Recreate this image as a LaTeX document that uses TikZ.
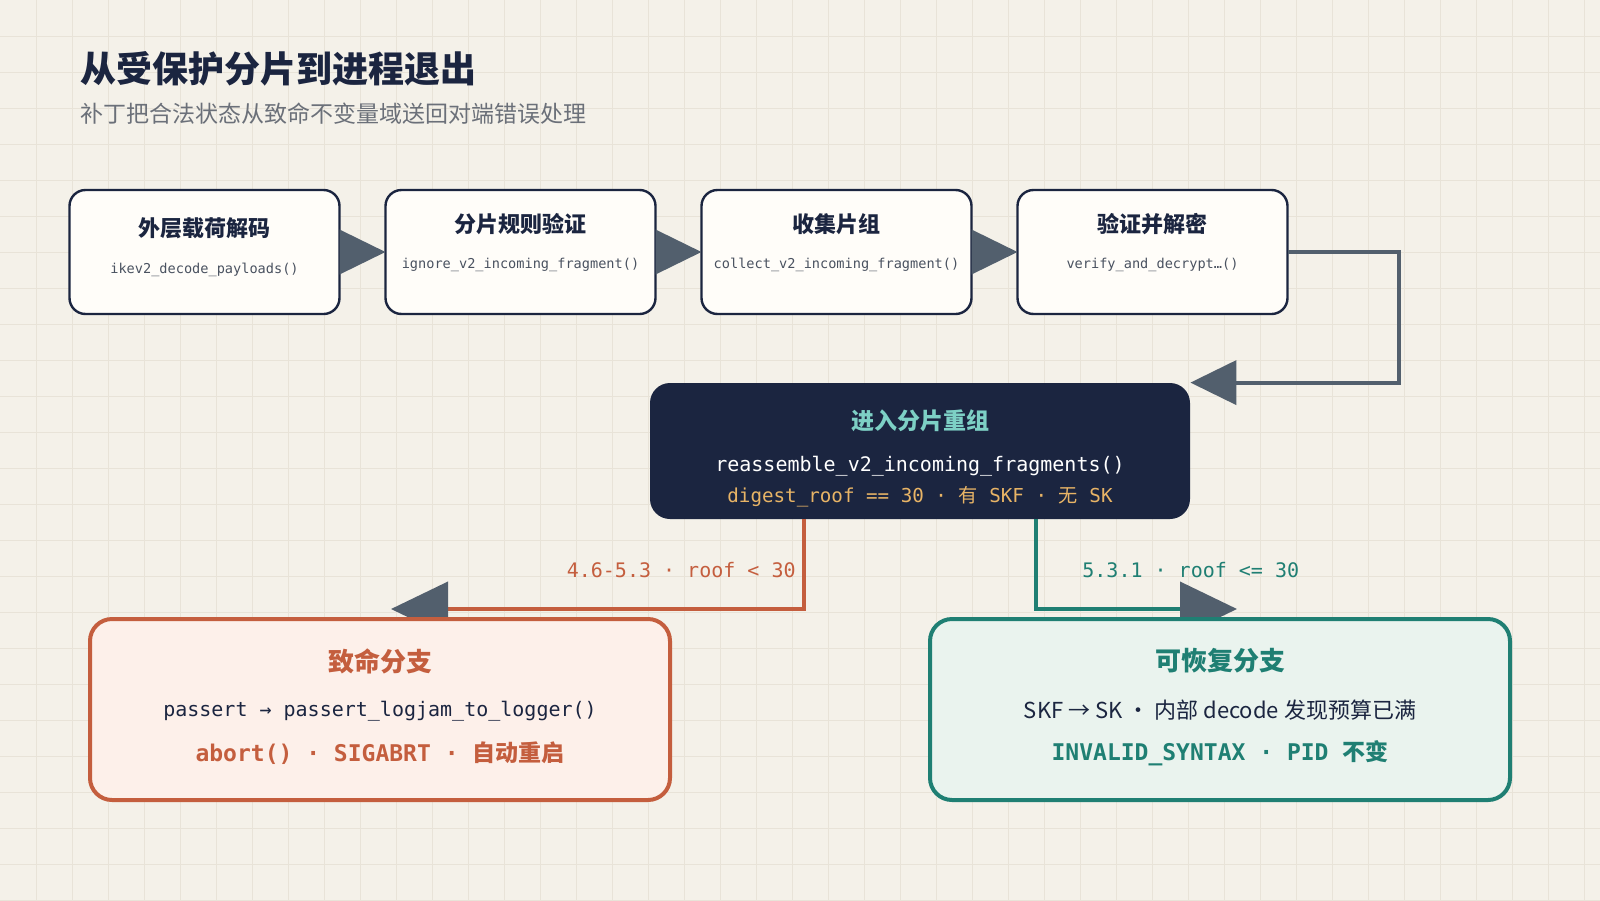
\documentclass[tikz,border=0pt]{standalone}
\usepackage{fontspec}
\setmainfont{Noto Sans CJK SC}
\setmonofont{DejaVu Sans Mono}
\newfontfamily\cjk{Noto Sans CJK SC}
\usetikzlibrary{arrows.meta,positioning}

\definecolor{paper}{HTML}{F4F1E9}
\definecolor{gridc}{HTML}{E8E3D8}
\definecolor{ink}{HTML}{1B2540}
\definecolor{subink}{HTML}{6B7079}
\definecolor{codeink}{HTML}{4A5260}
\definecolor{boxbg}{HTML}{FFFDF9}
\definecolor{arrowgray}{HTML}{525F6D}
\definecolor{rust}{HTML}{C45E3E}
\definecolor{rustbg}{HTML}{FDF0EA}
\definecolor{tealink}{HTML}{1F7F73}
\definecolor{tealbg}{HTML}{EAF3EE}
\definecolor{mint}{HTML}{7DD0C5}
\definecolor{amber}{HTML}{E8B466}

\begin{document}
\begin{tikzpicture}[
        x=0.5pt, y=-0.5pt,
        node distance=23pt,
        stepbox/.style={draw=ink, line width=1.2pt, fill=boxbg, rounded corners=8pt,
            minimum width=135pt, minimum height=62pt, outer sep=0pt},
        steptitle/.style={inner sep=0pt, text=ink, font=\bfseries\fontsize{11}{13}\selectfont},
        stepcode/.style={inner sep=0pt, text=codeink, font=\ttfamily\fontsize{6.8}{8}\selectfont},
        darkbox/.style={fill=ink, rounded corners=10pt, minimum width=270pt, minimum height=68pt},
        branchbox/.style={line width=2pt, rounded corners=11pt, minimum width=290pt, minimum height=90.5pt},
        branchtitle/.style={inner sep=0pt, font=\bfseries\fontsize{13}{15}\selectfont},
        codeline/.style={inner sep=0pt, font=\ttfamily\fontsize{10}{12}\selectfont},
        boldcode/.style={inner sep=0pt, font=\ttfamily\bfseries\fontsize{11.5}{13}\selectfont},
        edgelabel/.style={inner sep=0pt, font=\ttfamily\fontsize{10}{12}\selectfont},
        flow/.style={draw=arrowgray, line width=2pt, -{Triangle[length=23pt,width=22pt]}},
        branchflow/.style={line width=2pt, -{Triangle[length=28.5pt,width=27pt,color=arrowgray]}}
    ]
    % paper and grid
    \fill[paper] (0,0) rectangle (1600,900);
    \useasboundingbox (0,0) rectangle (1600,900);
    \foreach \gx in {36,72,...,1584}
        \draw[gridc, line width=0.5pt] (\gx,0) -- (\gx,900);
    \foreach \gy in {36,72,...,900}
        \draw[gridc, line width=0.5pt] (0,\gy) -- (1600,\gy);

    % heading
    \node[anchor=west, inner sep=0pt, text=ink, font=\bfseries\fontsize{18}{20}\selectfont] (title) at (80,69) {从受保护分片到进程退出};
    \node[anchor=west, inner sep=0pt, text=subink, font=\fontsize{11.5}{14}\selectfont] (subtitle) at (80,114) {补丁把合法状态从致命不变量域送回对端错误处理};

    % pipeline
    \node[stepbox] (decode) at (204.5,252) {};
    \node[stepbox, right=of decode] (filter) {};
    \node[stepbox, right=of filter] (collect) {};
    \node[stepbox, right=of collect] (verify) {};

    \node[steptitle] (decodetitle) at ([yshift=12pt]decode.center) {外层载荷解码};
    \node[stepcode] (decodecode) at ([yshift=-9pt]decode.center) {ikev2\_decode\_payloads()};
    \node[steptitle] (filtertitle) at ([yshift=14pt]filter.center) {分片规则验证};
    \node[stepcode] (filtercode) at ([yshift=-6.5pt]filter.center) {ignore\_v2\_incoming\_fragment()};
    \node[steptitle] (collecttitle) at ([yshift=14pt]collect.center) {收集片组};
    \node[stepcode] (collectcode) at ([yshift=-6.5pt]collect.center) {collect\_v2\_incoming\_fragment()};
    \node[steptitle] (verifytitle) at ([yshift=14pt]verify.center) {验证并解密};
    \node[stepcode] (verifycode) at ([yshift=-6.5pt]verify.center) {verify\_and\_decrypt…()};

    % reassembly
    \node[darkbox] (reasm) at (920,451) {};
    \node[inner sep=0pt, text=mint, font=\bfseries\fontsize{11.5}{13}\selectfont] (reasmtitle) at (920,421) {进入分片重组};
    \node[codeline, text=white] (reasmcode) at (920,466) {reassemble\_v2\_incoming\_fragments()};
    \node[codeline, text=amber, font=\ttfamily\fontsize{9.6}{12}\selectfont] (reasmnote) at (920,497) {digest\_roof == 30 · {\cjk 有} SKF · {\cjk 无} SK};

    \draw[flow] (decode) -- (filter);
    \draw[flow] (filter) -- (collect);
    \draw[flow] (collect) -- (verify);
    \draw[flow] (verify.east) -- ++(111,0) |- (reasm.north east);

    % branches
    \coordinate (fatalin) at (391,609);
    \coordinate (okin) at (1237,609);
    \draw[branchflow, draw=rust] ([xshift=-58pt]reasm.south) |- (fatalin);
    \draw[branchflow, draw=tealink] ([xshift=58pt]reasm.south) |- (okin);
    \node[edgelabel, text=rust, anchor=east] (fatallabel) at (796,570) {4.6-5.3 · roof < 30};
    \node[edgelabel, text=tealink, anchor=west] (oklabel) at (1082,570) {5.3.1 · roof <= 30};

    \node[branchbox, draw=rust, fill=rustbg] (fatal) at (380,709.5) {};
    \node[branchtitle, text=rust] (fataltitle) at (380,661) {致命分支};
    \node[codeline, text=ink] (fatalcode) at (380,711) {passert → passert\_logjam\_to\_logger()};
    \node[boldcode, text=rust] (fatalnote) at (380,753) {abort() · SIGABRT · {\cjk\bfseries 自动重启}};

    \node[branchbox, draw=tealink, fill=tealbg] (ok) at (1220,709.5) {};
    \node[branchtitle, text=tealink] (oktitle) at (1220,661) {可恢复分支};
    \node[inner sep=0pt, text=ink, font=\fontsize{11}{13}\selectfont] (okcode) at (1220,710) {SKF → SK · 内部 decode 发现预算已满};
    \node[boldcode, text=tealink] (oknote) at (1220,753) {INVALID\_SYNTAX · PID {\cjk\bfseries 不变}};
\end{tikzpicture}
\end{document}
